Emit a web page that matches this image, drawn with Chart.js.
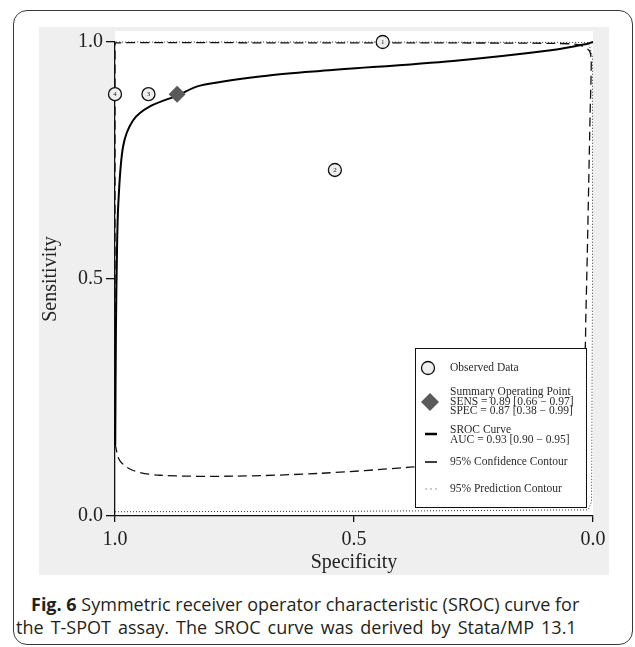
<!DOCTYPE html>
<html>
<head>
<meta charset="utf-8">
<script src="https://cdn.jsdelivr.net/npm/chart.js@4.4.1/dist/chart.umd.min.js"></script>
<style>
  html, body { margin: 0; padding: 0; background: #fff; }
  #frame {
    position: absolute; left: 13px; top: 10px; width: 620px; height: 635px;
    box-sizing: border-box; border: 1.5px solid #3a3a3a; border-radius: 14px;
  }
  #panel {
    position: absolute; left: 39px; top: 27px; width: 570px; height: 548px;
    background: #efefef;
  }
  .cap {
    position: absolute; font-family: "Open Sans", sans-serif; font-size: 18px;
    color: #231f20; white-space: nowrap; line-height: 22px;
  }
  .cap b { font-weight: 700; }
</style>
</head>
<body>
<div id="frame"></div>
<div id="panel"><canvas id="sroc" width="570" height="548"></canvas></div>
<div class="cap" style="left:31px; top:593px;"><b>Fig. 6</b> Symmetric receiver operator characteristic (SROC) curve for</div>
<div class="cap" style="left:16px; top:616px; word-spacing:2.4px;">the T-SPOT assay. The SROC curve was derived by Stata/MP 13.1</div>

<script>
// Observed studies
const studyLabels = ['1', '2', '3', '4'];
const studySpec = [0.44, 0.54, 0.93, 1.0];
const studySens = [1.0, 0.73, 0.89, 0.89];

// Summary operating point
const summarySpec = [0.87];
const summarySens = [0.89];

// SROC curve
const srocSpec = [0.9995, 0.998, 0.996, 0.993, 0.983, 0.962, 0.927, 0.87, 0.822, 0.682, 0.571, 0.293, 0.084, 0.013, 0.0];
const srocSens = [0.15, 0.40, 0.55, 0.66, 0.78, 0.835, 0.864, 0.887, 0.908, 0.929, 0.939, 0.96, 0.983, 0.996, 1.0];

// 95% confidence contour
const confSpec = [1.0, 0.99, 0.962, 0.906, 0.753, 0.571, 0.383, 0.2, 0.08, 0.03, 0.017, 0.015, 0.012, 0.009, 0.006, 0.004, 0.004, 0.008, 0.03, 0.08, 0.3, 0.6, 1.0, 1.0, 1.0];
const confSens = [0.153, 0.117, 0.096, 0.086, 0.084, 0.09, 0.103, 0.12, 0.16, 0.22, 0.34, 0.42, 0.55, 0.7, 0.85, 0.93, 0.965, 0.982, 0.994, 0.997, 0.998, 0.998, 0.998, 0.6, 0.153];

// 95% prediction contour
const predSpec = [1.0, 0.5, 0.01, 0.003, 0.001, 0.001, 0.01, 0.5, 1.0];
const predSens = [0.009, 0.01, 0.013, 0.03, 0.5, 0.97, 0.999, 1.0, 1.0];

const axisTicks = [0, 0.5, 1];

function pts(xs, ys) {
  return xs.map((x, i) => ({ x: x, y: ys[i] }));
}

const serif = 'Liberation Serif, "Times New Roman", serif';

// White plot region (extends a little above the 1.0 line)
const plotBackground = {
  id: 'plotBackground',
  beforeDraw(chart) {
    const { ctx, chartArea } = chart;
    ctx.save();
    ctx.fillStyle = '#ffffff';
    ctx.fillRect(chartArea.left, chartArea.top - 11, chartArea.right - chartArea.left, chartArea.bottom - chartArea.top + 11);
    ctx.restore();
  }
};

// Study numbers inside the circles
const studyNumbers = {
  id: 'studyNumbers',
  afterDatasetsDraw(chart) {
    const ctx = chart.ctx;
    const meta = chart.getDatasetMeta(0);
    ctx.save();
    ctx.font = '7px ' + serif;
    ctx.fillStyle = '#222';
    ctx.textAlign = 'center';
    ctx.textBaseline = 'middle';
    meta.data.forEach((p, i) => ctx.fillText(studyLabels[i], p.x, p.y + 0.5));
    ctx.restore();
  }
};

// Legend box in the lower right corner of the plot
const boxLegend = {
  id: 'boxLegend',
  afterDatasetsDraw(chart) {
    const ctx = chart.ctx;
    ctx.save();
    ctx.fillStyle = '#fff';
    ctx.fillRect(376, 321, 172, 160);
    ctx.strokeStyle = '#111';
    ctx.lineWidth = 1;
    ctx.strokeRect(376.5, 321.5, 171, 159);

    // observed data
    ctx.beginPath();
    ctx.arc(389, 341, 6.5, 0, Math.PI * 2);
    ctx.fillStyle = '#efefef';
    ctx.fill();
    ctx.lineWidth = 1.3;
    ctx.stroke();

    // summary point
    ctx.beginPath();
    ctx.moveTo(391, 366);
    ctx.lineTo(400, 375);
    ctx.lineTo(391, 384);
    ctx.lineTo(382, 375);
    ctx.closePath();
    ctx.fillStyle = '#5a5a5a';
    ctx.fill();

    // sroc curve
    ctx.strokeStyle = '#000';
    ctx.lineWidth = 2.5;
    ctx.beginPath();
    ctx.moveTo(386, 407);
    ctx.lineTo(398, 407);
    ctx.stroke();

    // confidence contour
    ctx.lineWidth = 1.5;
    ctx.beginPath();
    ctx.moveTo(386, 435);
    ctx.lineTo(398, 435);
    ctx.stroke();

    // prediction contour
    ctx.fillStyle = '#333';
    [387, 392, 397].forEach(x => ctx.fillRect(x - 0.5, 461.5, 1, 1));

    ctx.fillStyle = '#2a2a2a';
    ctx.font = '11.5px ' + serif;
    ctx.textAlign = 'left';
    ctx.textBaseline = 'middle';
    const lines = [
      ['Observed Data', 341],
      ['Summary Operating Point', 365],
      ['SENS = 0.89 [0.66 \u2212 0.97]', 374.5],
      ['SPEC = 0.87 [0.38 \u2212 0.99]', 384],
      ['SROC Curve', 403],
      ['AUC = 0.93 [0.90 \u2212 0.95]', 412.5],
      ['95% Confidence Contour', 435],
      ['95% Prediction Contour', 462]
    ];
    lines.forEach(l => ctx.fillText(l[0], 411, l[1]));
    ctx.restore();
  }
};

const axisFont = { family: serif, size: 20 };

new Chart(document.getElementById('sroc'), {
  type: 'scatter',
  data: {
    datasets: [
      {
        label: 'Observed Data',
        data: pts(studySpec, studySens),
        pointStyle: 'circle',
        pointRadius: 6.5,
        pointBackgroundColor: '#efefef',
        pointBorderColor: '#111',
        pointBorderWidth: 1.3,
        clip: 10,
        order: 0
      },
      {
        label: 'Summary Operating Point',
        data: pts(summarySpec, summarySens),
        pointStyle: 'rectRot',
        pointRadius: 8.5,
        pointBackgroundColor: '#5a5a5a',
        pointBorderColor: '#5a5a5a',
        pointBorderWidth: 0,
        clip: 10,
        order: 1
      },
      {
        label: 'SROC Curve',
        data: pts(srocSpec, srocSens),
        showLine: true,
        borderColor: '#000',
        borderWidth: 2,
        pointRadius: 0,
        tension: 0.3,
        clip: 4,
        order: 2
      },
      {
        label: '95% Confidence Contour',
        data: pts(confSpec, confSens),
        showLine: true,
        borderColor: '#111',
        borderWidth: 1.3,
        borderDash: [9, 5],
        pointRadius: 0,
        tension: 0.3,
        clip: 4,
        order: 3
      },
      {
        label: '95% Prediction Contour',
        data: pts(predSpec, predSens),
        showLine: true,
        borderColor: '#333',
        borderWidth: 1,
        borderDash: [1, 2],
        pointRadius: 0,
        tension: 0,
        clip: 4,
        order: 4
      }
    ]
  },
  options: {
    responsive: false,
    animation: false,
    devicePixelRatio: 1,
    layout: { padding: { top: 11, right: 16, left: 0, bottom: 0 } },
    plugins: {
      legend: { display: false },
      tooltip: { enabled: false }
    },
    scales: {
      x: {
        type: 'linear',
        reverse: true,
        min: 0,
        max: 1,
        afterFit: s => { s.height = 59; },
        afterBuildTicks: s => { s.ticks = axisTicks.map(v => ({ value: v })); },
        border: { display: true, color: '#111', width: 1.3 },
        grid: { display: true, drawOnChartArea: false, drawTicks: true, tickLength: 6, color: '#111', lineWidth: 1.3 },
        ticks: {
          callback: v => v.toFixed(1),
          font: axisFont,
          color: '#222',
          padding: 6,
          maxRotation: 0
        },
        title: { display: true, text: 'Specificity', font: axisFont, color: '#222', padding: { top: 0, bottom: 0 } }
      },
      y: {
        type: 'linear',
        min: 0,
        max: 1,
        afterFit: s => { s.width = 76; },
        afterBuildTicks: s => { s.ticks = axisTicks.map(v => ({ value: v })); },
        border: { display: true, color: '#111', width: 1.3 },
        grid: { display: true, drawOnChartArea: false, drawTicks: true, tickLength: 9, color: '#111', lineWidth: 1.3 },
        ticks: {
          callback: v => v.toFixed(1),
          font: axisFont,
          color: '#222',
          padding: 3
        },
        title: { display: true, text: 'Sensitivity', font: axisFont, color: '#222', padding: { top: 0, bottom: 0 } }
      }
    }
  },
  plugins: [plotBackground, studyNumbers, boxLegend]
});
</script>
</body>
</html>
